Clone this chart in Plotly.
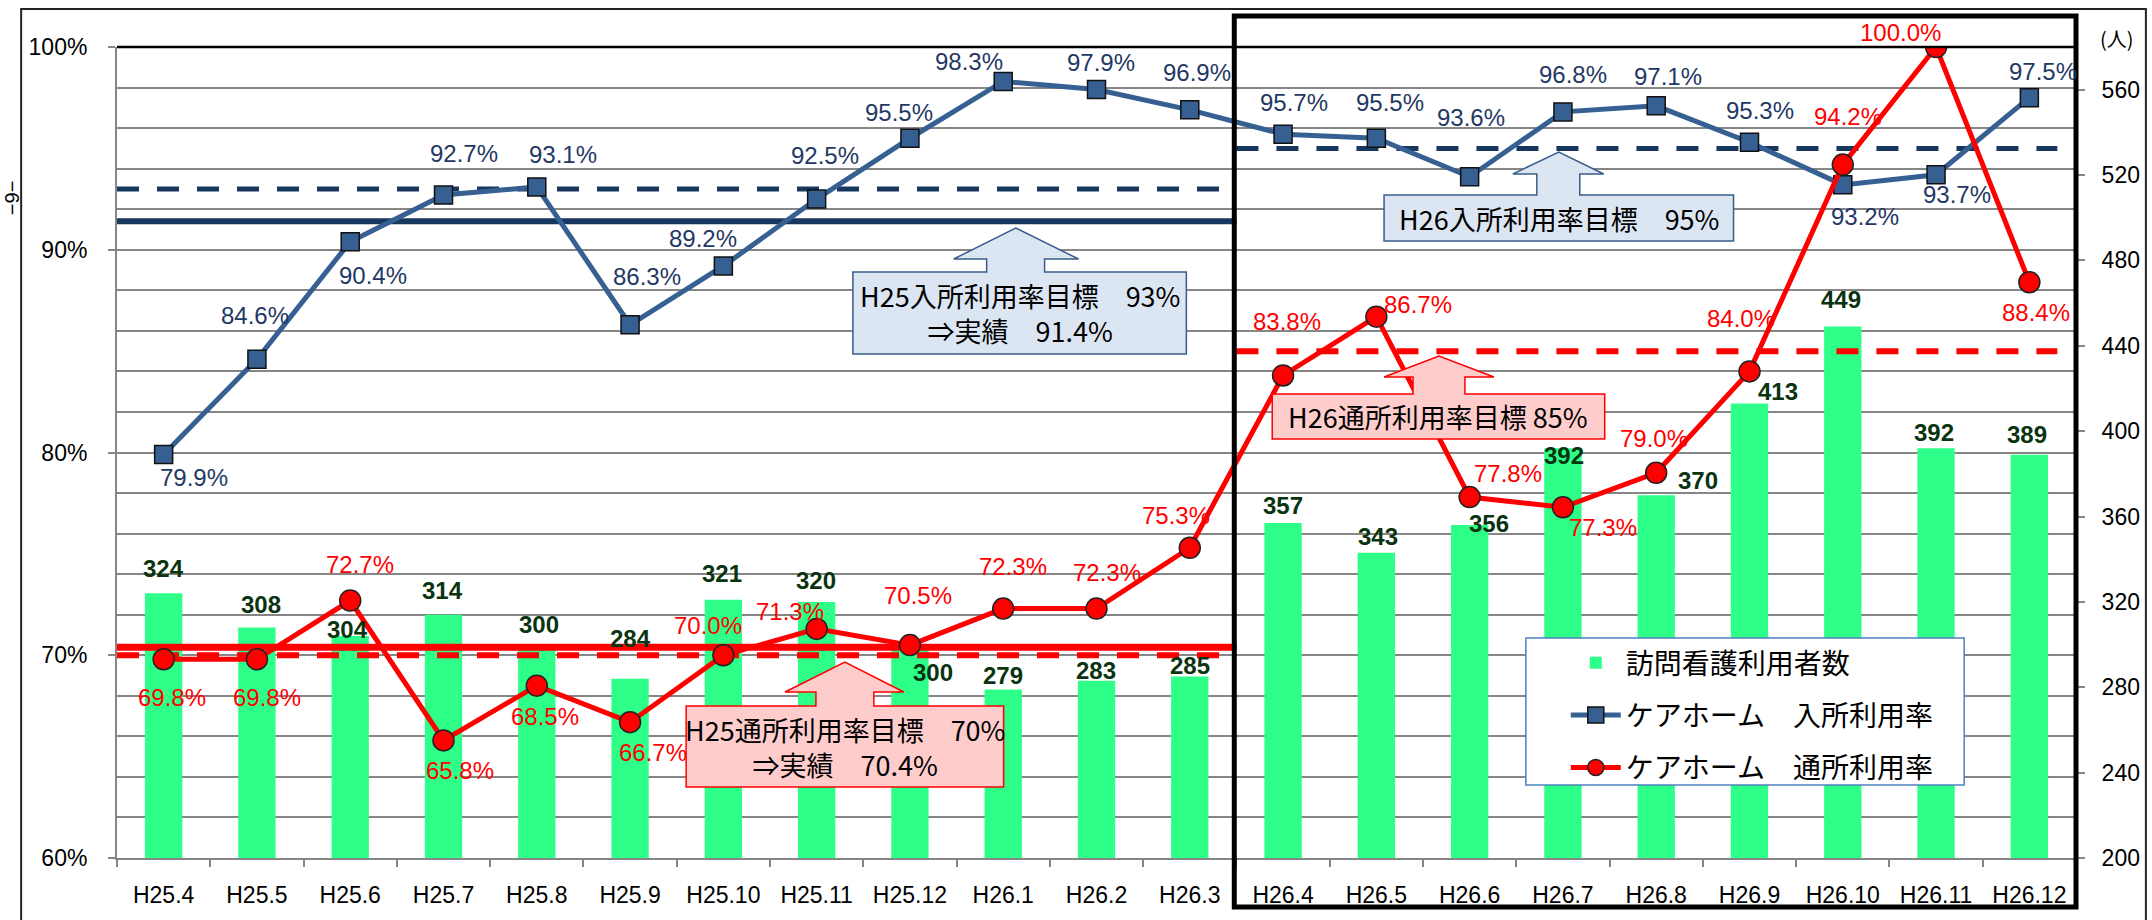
import plotly.graph_objects as go

# ---------------- data ----------------
categories = ["H25.4", "H25.5", "H25.6", "H25.7", "H25.8", "H25.9", "H25.10", "H25.11",
              "H25.12", "H26.1", "H26.2", "H26.3", "H26.4", "H26.5", "H26.6", "H26.7",
              "H26.8", "H26.9", "H26.10", "H26.11", "H26.12"]
visiting_nurse_users = [324, 308, 304, 314, 300, 284, 321, 320, 300, 279, 283, 285,
                        357, 343, 356, 392, 370, 413, 449, 392, 389]
admission_rate = [79.9, 84.6, 90.4, 92.7, 93.1, 86.3, 89.2, 92.5, 95.5, 98.3, 97.9, 96.9,
                  95.7, 95.5, 93.6, 96.8, 97.1, 95.3, 93.2, 93.7, 97.5]
daycare_rate = [69.8, 69.8, 72.7, 65.8, 68.5, 66.7, 70.0, 71.3, 70.5, 72.3, 72.3, 75.3,
                83.8, 86.7, 77.8, 77.3, 79.0, 84.0, 94.2, 100.0, 88.4]

series_names = ["訪問看護利用者数", "ケアホーム　入所利用率", "ケアホーム　通所利用率"]

h25_admission_target = 93.0
h25_admission_actual = 91.4
h26_admission_target = 95.0
h25_daycare_target = 70.0
h25_daycare_actual = 70.4
h26_daycare_target = 85.0

left_range = [60, 100]
right_range = [200, 580]

box_texts = [
    "H25入所利用率目標　93%<br>⇒実績　91.4%",
    "H26入所利用率目標　95%",
    "H25通所利用率目標　70%<br>⇒実績　70.4%",
    "H26通所利用率目標 85%",
]

# ---------------- styling / label offsets (pixels: dx right, dy up) ----------------
blue_off = [(30, -23), (-2, 44), (23, -34), (20, 42), (26, 32), (17, 48), (-20, 27),
            (8, 44), (-11, 26), (-34, 20), (4, 27), (7, 37), (11, 32), (14, 36),
            (1, 59), (10, 37), (12, 29), (10, 32), (22, -32), (21, -20), (14, 26)]
red_off = [(8, -38), (10, -38), (10, 36), (16, -30), (8, -31), (23, -30), (-15, 30),
           (-27, 17), (8, 50), (10, 42), (10, 36), (-14, 32), (4, 54), (42, 12),
           (38, 24), (40, -20), (-2, 34), (-9, 53), (5, 48), (-36, 15), (7, -30)]
bar_off = [(0, 25), (4, 23), (-3, 7), (-1, 24), (2, 20), (0, 40), (-1, 26), (-1, 21),
           (23, -28), (0, 14), (-1, 10), (0, 11), (0, 17), (2, 16), (19, 2), (1, -7),
           (42, 15), (28, 12), (-2, 27), (-2, 16), (-2, 20)]

W, H = 2152, 920          # browser window
PL, PR, PT, PB = 117, 2079, 47, 858   # plot area in window pixels

NARROW = "Liberation Sans Narrow, Arial Narrow, Liberation Sans, Noto Sans CJK JP, sans-serif"
SANS = "Liberation Sans, Arial, Noto Sans CJK JP, sans-serif"
CJK = "Noto Sans CJK JP, Liberation Sans, sans-serif"
BOXFONT = "Liberation Sans Narrow, Arial Narrow, Noto Sans CJK JP, sans-serif"

BAR_C = "#2EFF88"
BLUE = "#376092"
BLUE_TXT = "#1F3864"
NAVY = "#17375E"
RED = "#FF0000"
GRID = "#868686"


def px(x, y):
    return (x - PL) / (PR - PL), (PB - y) / (PB - PT)


xi = list(range(len(categories)))
split = 11.5          # boundary between H25 and H26 fiscal years
h26_end = 20.3

fig = go.Figure()

fig.add_trace(go.Bar(
    x=xi, y=visiting_nurse_users, name=series_names[0], width=0.4,
    marker=dict(color=BAR_C, line=dict(width=0)), yaxis="y", legendgroup="g0",
))


def hline(yv, x0, x1, color, width, dash):
    fig.add_trace(go.Scatter(x=[x0, x1], y=[yv, yv], mode="lines", yaxis="y2",
                             line=dict(color=color, width=width, dash=dash),
                             showlegend=False, legendgroup="g0", hoverinfo="skip"))


hline(h25_admission_actual, -0.5, split, NAVY, 6, "solid")
hline(h25_admission_target, -0.5, split, NAVY, 5, "22px,18px")
hline(h26_admission_target, split, h26_end, NAVY, 5, "22px,18px")
hline(h25_daycare_actual, -0.5, split, RED, 7, "solid")
hline(h25_daycare_target, -0.5, split, RED, 6, "22px,18px")
hline(h26_daycare_target, split, h26_end, RED, 6, "22px,18px")

fig.add_trace(go.Scatter(
    x=xi, y=admission_rate, name=series_names[1], mode="lines+markers", yaxis="y2",
    line=dict(color=BLUE, width=5),
    marker=dict(symbol="square", size=18, color=BLUE, line=dict(color="#111111", width=1.5)),
    legendgroup="g1",
))
fig.add_trace(go.Scatter(
    x=xi, y=daycare_rate, name=series_names[2], mode="lines+markers", yaxis="y2",
    line=dict(color=RED, width=5),
    marker=dict(symbol="circle", size=21, color=RED, line=dict(color="#222222", width=1.5)),
    legendgroup="g2",
))

annotations = []
for i, v in enumerate(admission_rate):
    annotations.append(dict(x=i, y=v, xref="x", yref="y2", text=f"{v:.1f}%", showarrow=False,
                            xanchor="center", yanchor="middle",
                            xshift=blue_off[i][0], yshift=blue_off[i][1],
                            font=dict(family=NARROW, size=24, color=BLUE_TXT)))
for i, v in enumerate(daycare_rate):
    annotations.append(dict(x=i, y=v, xref="x", yref="y2", text=f"{v:.1f}%", showarrow=False,
                            xanchor="center", yanchor="middle",
                            xshift=red_off[i][0], yshift=red_off[i][1],
                            font=dict(family=NARROW, size=24, color=RED)))
for i, v in enumerate(visiting_nurse_users):
    annotations.append(dict(x=i, y=v, xref="x", yref="y", text=f"<b>{v}</b>", showarrow=False,
                            xanchor="center", yanchor="middle",
                            xshift=bar_off[i][0], yshift=bar_off[i][1],
                            font=dict(family=SANS, size=24, color="#0A3310")))


def callout_path(bx0, bx1, btop, bbot, sx0, sx1, hx0, hx1, ax, ay, hy):
    pts = [(bx0, bbot), (bx0, btop), (sx0, btop), (sx0, hy), (hx0, hy), (ax, ay),
           (hx1, hy), (sx1, hy), (sx1, btop), (bx1, btop), (bx1, bbot)]
    s = ""
    for k, (x, y) in enumerate(pts):
        p = px(x, y)
        s += ("M" if k == 0 else "L") + f"{p[0]:.5f},{p[1]:.5f} "
    return s + "Z"


callouts = [
    dict(geo=(854, 1188, 272, 354, 988, 1046, 955, 1080, 1017, 228, 259),
         fill="#DCE6F2", line="#385D8A", text=box_texts[0]),
    dict(geo=(1386, 1736, 195, 241, 1539, 1582, 1515, 1606, 1561, 152, 174),
         fill="#DCE6F2", line="#385D8A", text=box_texts[1]),
    dict(geo=(687, 1005, 706, 787, 817, 875, 786, 905, 846, 662, 692),
         fill="#FFCCCC", line="#FF0000", text=box_texts[2]),
    dict(geo=(1274, 1607, 394, 439, 1415, 1467, 1386, 1496, 1441, 356, 377),
         fill="#FFCCCC", line="#FF0000", text=box_texts[3]),
]

shapes = []
for c in callouts:
    g = c["geo"]
    shapes.append(dict(type="path", xref="paper", yref="paper", path=callout_path(*g),
                       fillcolor=c["fill"], line=dict(color=c["line"], width=1.5), layer="above"))
    cx, cy = px((g[0] + g[1]) / 2, (g[2] + g[3]) / 2)
    annotations.append(dict(x=cx, y=cy, xref="paper", yref="paper", text=c["text"],
                            showarrow=False, xanchor="center", yanchor="middle",
                            font=dict(family=BOXFONT, size=27, color="black")))

# top border of plot area
shapes.append(dict(type="line", xref="paper", yref="paper", x0=0, x1=1, y0=1, y1=1,
                   line=dict(color="black", width=2.5), layer="above"))
# legend frame
l0 = px(1528, 785)
l1 = px(1967, 638)
shapes.append(dict(type="rect", xref="paper", yref="paper", x0=l0[0], y0=l0[1], x1=l1[0], y1=l1[1],
                   fillcolor="white", line=dict(color="#4F81BD", width=1.5), layer="above"))
# H26 highlight box
b0 = px(1236, 907)
b1 = px(2079, 16)
shapes.append(dict(type="rect", xref="paper", yref="paper", x0=b0[0], y0=b0[1], x1=b1[0], y1=b1[1],
                   line=dict(color="black", width=5), layer="above"))
# outer page frame
f0 = px(21, 940)
f1 = px(2149, 9)
shapes.append(dict(type="rect", xref="paper", yref="paper", x0=f0[0], y0=f0[1], x1=f1[0], y1=f1[1],
                   line=dict(color="#222222", width=2), layer="above"))

u = px(2120, 38)
annotations.append(dict(x=u[0], y=u[1], xref="paper", yref="paper", text="(人)", showarrow=False,
                        xanchor="center", yanchor="middle",
                        font=dict(family=CJK, size=20, color="black")))
pn = px(12, 198)
annotations.append(dict(x=pn[0], y=pn[1], xref="paper", yref="paper", text="−9−", showarrow=False,
                        xanchor="center", yanchor="middle",
                        textangle=-90, font=dict(family=SANS, size=20, color="black")))

lg = px(1568, 638)

fig.update_layout(
    width=W, height=H, autosize=False,
    margin=dict(l=PL, r=W - PR, t=PT, b=H - PB, pad=0),
    paper_bgcolor="white", plot_bgcolor="white",
    showlegend=True,
    legend=dict(x=lg[0], y=lg[1], xanchor="left", yanchor="top", bgcolor="rgba(0,0,0,0)",
                borderwidth=0, font=dict(family=CJK, size=28, color="black"),
                traceorder="grouped", tracegroupgap=13, itemwidth=50),
    xaxis=dict(range=[-0.5, len(categories) - 0.5], tickmode="array", tickvals=xi, ticktext=categories,
               ticks="outside", ticklen=8, tickcolor="rgba(0,0,0,0)", ticklabelstandoff=7,
               tickfont=dict(family=NARROW, size=23, color="black"),
               showgrid=False, zeroline=False, showline=True, linecolor=GRID, linewidth=2,
               minor=dict(ticks="outside", ticklen=7, tickcolor=GRID, tickwidth=2,
                          tickmode="linear", tick0=-0.5, dtick=1, showgrid=False)),
    yaxis=dict(range=right_range, side="right", tickmode="linear", tick0=200, dtick=40,
               ticks="outside", ticklen=7, tickcolor=GRID, tickwidth=2, ticklabelstandoff=12,
               tickfont=dict(family=SANS, size=23, color="black"),
               showgrid=False, zeroline=False, showline=True, linecolor=GRID, linewidth=2),
    yaxis2=dict(range=left_range, overlaying="y", side="left", tickmode="linear", tick0=60, dtick=10,
                ticksuffix="%", ticks="outside", ticklen=7, tickcolor=GRID, tickwidth=2,
                ticklabelstandoff=16, tickfont=dict(family=SANS, size=23, color="black"),
                showgrid=True, gridcolor=GRID, gridwidth=1.5, zeroline=False,
                showline=True, linecolor=GRID, linewidth=2,
                minor=dict(tickmode="linear", tick0=60, dtick=2, showgrid=True,
                           gridcolor=GRID, gridwidth=1.5, ticks="")),
    shapes=shapes,
    annotations=annotations,
)

# remove the default 8px page margin so the figure fills the window exactly
fig.write_html("out.html", config={"displayModeBar": False},
               post_script="document.body.style.margin='0px';")
